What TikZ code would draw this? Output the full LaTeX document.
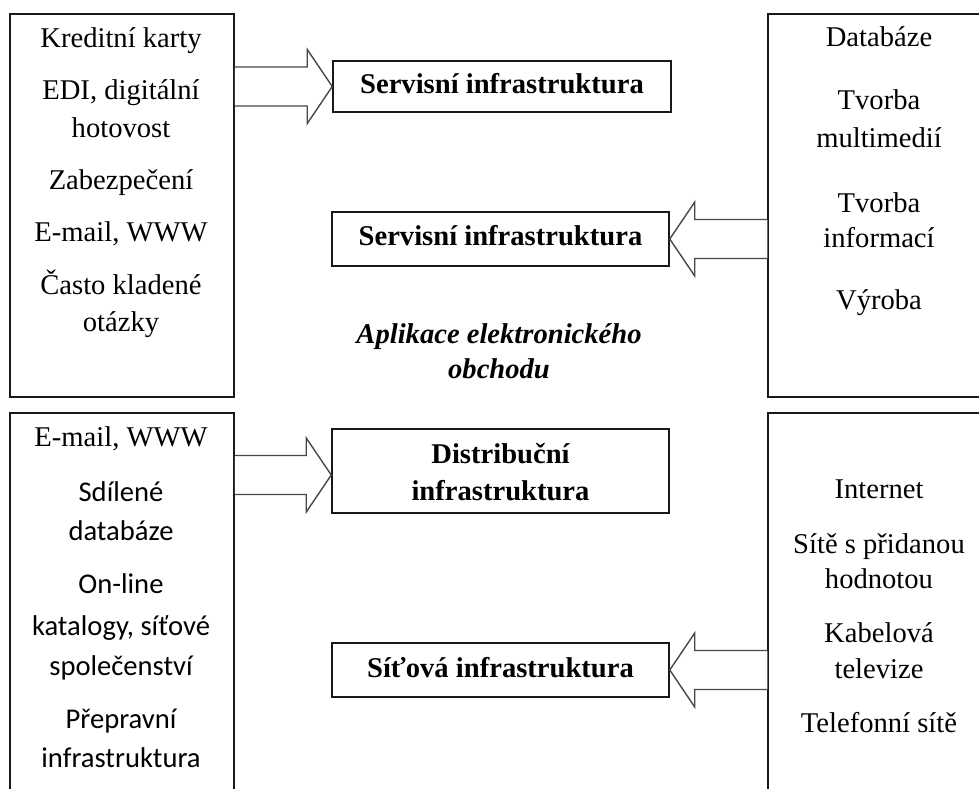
\documentclass[tikz,border=0pt]{standalone}
\usepackage{fontspec}
\setmainfont{Liberation Serif}
\newfontfamily\calibrifont{Carlito}
\usetikzlibrary{calc}

\tikzset{
  box/.style={draw=black!90, line width=1.5pt, rectangle, inner sep=0pt},
  barrow/.style={draw=black!72, line width=1.4pt, fill=white, line join=miter},
  txt/.style={anchor=base, inner sep=0pt, font=\fontsize{28.6}{34}\selectfont},
  stxt/.style={txt, font=\calibrifont\fontsize{28.6}{34}\selectfont},
  btxt/.style={txt, font=\fontsize{28.6}{34}\selectfont\bfseries},
  bitxt/.style={txt, font=\fontsize{28.6}{34}\selectfont\bfseries\itshape},
}

% block arrow pointing right: tail #1, tip #2
\newcommand\blockright[2]{%
  \draw[barrow] let \p1=(#1), \p2=(#2) in
    (\x1,\y2+19.5pt) -- (\x2-25pt,\y2+19.5pt) -- (\x2-25pt,\y2+37pt) -- (\x2,\y2)
    -- (\x2-25pt,\y2-37pt) -- (\x2-25pt,\y2-19.5pt) -- (\x1,\y2-19.5pt);}
% block arrow pointing left: tail #1, tip #2
\newcommand\blockleft[2]{%
  \draw[barrow] let \p1=(#1), \p2=(#2) in
    (\x1,\y2+19.5pt) -- (\x2+25pt,\y2+19.5pt) -- (\x2+25pt,\y2+37pt) -- (\x2,\y2)
    -- (\x2+25pt,\y2-37pt) -- (\x2+25pt,\y2-19.5pt) -- (\x1,\y2-19.5pt);}

\begin{document}
\begin{tikzpicture}[x=1pt, y=-1pt]
\useasboundingbox (0,0) rectangle (979,789);
\clip (0,0) rectangle (979,789);

% outer boxes
\node[box, minimum width=224, minimum height=383] (lt) at (122,205.5) {};
\node[box, minimum width=224, minimum height=397] (lb) at (122,611.5) {};
\node[box, minimum width=222, minimum height=383] (rt) at (879,205.5) {};
\node[box, minimum width=222, minimum height=397] (rb) at (879,611.5) {};

% infrastructure boxes
\node[box, minimum width=338, minimum height=51] (s1) at (502,86.5) {};
\node[box, minimum width=337, minimum height=54] (s2) at (500.5,239) {};
\node[box, minimum width=337, minimum height=84] (di) at (500.5,471) {};
\node[box, minimum width=337, minimum height=54] (ni) at (500.5,670) {};

% block arrows
\blockright{lt.east |- s1.west}{s1.west}
\blockleft{rt.west |- s2.east}{s2.east}
\coordinate (ditip) at ($(di.west)+(0,4)$);
\blockright{lb.east |- ditip}{ditip}
\blockleft{rb.west |- ni.east}{ni.east}

% box labels
\node[btxt] (s1t) at (502,94) {Servisní infrastruktura};
\node[btxt] (s2t) at (500.5,245) {Servisní infrastruktura};
\node[btxt] (dit1) at (500.5,463) {Distribuční};
\node[btxt] (dit2) at (500.5,500) {infrastruktura};
\node[btxt] (nit) at (500.5,677) {Síťová infrastruktura};

% centre caption
\node[bitxt] (cap1) at (499,343) {Aplikace elektronického};
\node[bitxt] (cap2) at (499,378) {obchodu};

% left top
\node[txt] (lt1) at (121,48) {Kreditní karty};
\node[txt] (lt2) at (121,100) {EDI, digitální};
\node[txt] (lt3) at (121,137) {hotovost};
\node[txt] (lt4) at (121,189) {Zabezpečení};
\node[txt] (lt5) at (121,241) {E-mail, WWW};
\node[txt] (lt6) at (121,294) {Často kladené};
\node[txt] (lt7) at (121,331) {otázky};

% right top
\node[txt] (rt1) at (879,47) {Databáze};
\node[txt] (rt2) at (879,110) {Tvorba};
\node[txt] (rt3) at (879,147) {multimedií};
\node[txt] (rt4) at (879,212) {Tvorba};
\node[txt] (rt5) at (879,247) {informací};
\node[txt] (rt6) at (879,309) {Výroba};

% left bottom
\node[txt] (lb1) at (121,446) {E-mail, WWW};
\node[stxt] (lb2) at (121,501) {Sdílené};
\node[stxt] (lb3) at (121,540) {databáze};
\node[stxt] (lb4) at (121,593) {On-line};
\node[stxt] (lb5) at (121,635) {katalogy, síťové};
\node[stxt] (lb6) at (121,675) {společenství};
\node[stxt] (lb7) at (121,728) {Přepravní};
\node[stxt] (lb8) at (121,767) {infrastruktura};

% right bottom
\node[txt] (rb1) at (879,498) {Internet};
\node[txt] (rb2) at (879,553) {Sítě s přidanou};
\node[txt] (rb3) at (879,588) {hodnotou};
\node[txt] (rb4) at (879,642) {Kabelová};
\node[txt] (rb5) at (879,678) {televize};
\node[txt] (rb6) at (879,732) {Telefonní sítě};
\end{tikzpicture}
\end{document}
